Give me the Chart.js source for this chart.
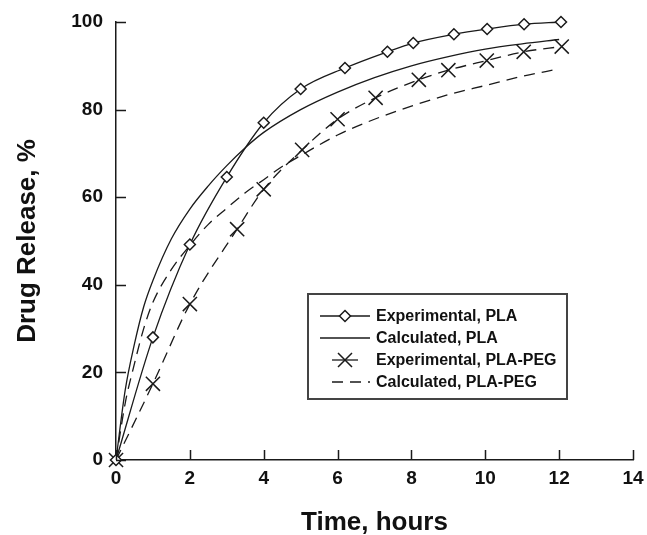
<!DOCTYPE html>
<html>
<head>
<meta charset="utf-8">
<script src="https://cdn.jsdelivr.net/npm/chart.js@4.4.1/dist/chart.umd.min.js"></script>
<style>
  html, body { margin: 0; padding: 0; background: #fff; }
  #wrap { width: 647px; height: 535px; }
</style>
</head>
<body>
<div id="wrap"><canvas id="release"></canvas></div>
<script>
// Experimental, PLA
const expPlaTime = [0, 1, 2, 3, 4, 5, 6.2, 7.35, 8.05, 9.15, 10.05, 11.05, 12.05];
const expPlaRelease = [0, 28, 49.2, 64.6, 77, 84.7, 89.5, 93.2, 95.2, 97.2, 98.4, 99.5, 100];

// Calculated, PLA
const calcPlaTime = [0, 0.25, 0.5, 0.75, 1, 1.5, 2, 2.5, 3, 3.5, 4, 5, 6, 7, 8, 9, 10, 11, 12];
const calcPlaRelease = [0, 16, 26.5, 35, 41, 50.5, 57.3, 62.6, 67.2, 71.3, 74.8, 80, 84, 87.3, 90, 92.1, 93.8, 95, 96];

// Experimental, PLA-PEG
const expPegTime = [0, 1, 2, 3.28, 4, 5.04, 6, 7.03, 8.2, 9, 10.04, 11.04, 12.07];
const expPegRelease = [0, 17.4, 35.6, 52.7, 61.8, 70.8, 77.8, 82.7, 86.8, 89, 91.2, 93.2, 94.4];

// Calculated, PLA-PEG
const calcPegTime = [0, 0.25, 0.5, 0.75, 1, 1.5, 2, 2.5, 3, 3.5, 4, 4.5, 5, 6, 7, 8, 9, 10, 11, 12];
const calcPegRelease = [0, 13, 22, 30, 36, 43.5, 49, 53.8, 57.5, 61, 64, 67, 69.5, 74.2, 77.8, 80.8, 83.4, 85.5, 87.6, 89.3];

const xTicks = [0, 2, 4, 6, 8, 10, 12, 14];
const yTicks = [0, 20, 40, 60, 80, 100];

const legendLabels = ['Experimental, PLA', 'Calculated, PLA', 'Experimental, PLA-PEG', 'Calculated, PLA-PEG'];

const toPoints = (xs, ys) => xs.map((x, i) => ({ x: x, y: ys[i] }));
const ink = '#1a1a1a';
const fontFamily = '"Liberation Sans", Arial, sans-serif';

// inward tick marks on both axes
const innerTicks = {
  id: 'innerTicks',
  afterDraw(chart) {
    const ctx = chart.ctx;
    const xs = chart.scales.x;
    const ys = chart.scales.y;
    const area = chart.chartArea;
    ctx.save();
    ctx.strokeStyle = ink;
    ctx.lineWidth = 1.5;
    ctx.beginPath();
    xTicks.forEach(v => {
      const px = Math.round(xs.getPixelForValue(v)) + 0.5;
      ctx.moveTo(px, area.bottom);
      ctx.lineTo(px, area.bottom - 10);
    });
    yTicks.forEach(v => {
      const py = Math.round(ys.getPixelForValue(v)) + 0.5;
      ctx.moveTo(area.left, py);
      ctx.lineTo(area.left + 10, py);
    });
    ctx.stroke();
    ctx.restore();
  }
};

// boxed legend inside the plot
const boxLegend = {
  id: 'boxLegend',
  afterDraw(chart) {
    const ctx = chart.ctx;
    const left = 308, top = 294, right = 567, bottom = 399;
    ctx.save();
    ctx.strokeStyle = '#444';
    ctx.lineWidth = 2;
    ctx.fillStyle = '#fff';
    ctx.fillRect(left, top, right - left, bottom - top);
    ctx.strokeRect(left, top, right - left, bottom - top);

    ctx.font = 'bold 16px ' + fontFamily;
    ctx.textBaseline = 'middle';
    ctx.textAlign = 'left';
    const rows = [316, 338, 360, 382];
    chart.data.datasets.forEach((ds, i) => {
      const y = rows[i];
      ctx.strokeStyle = ink;
      ctx.lineWidth = 1.3;
      ctx.setLineDash(ds.borderDash || []);
      ctx.beginPath();
      if (i === 2) {
        ctx.setLineDash([]);
        ctx.moveTo(332, y); ctx.lineTo(358, y);
      } else if (i === 3) {
        ctx.moveTo(332, y); ctx.lineTo(370, y);
      } else {
        ctx.moveTo(320, y); ctx.lineTo(370, y);
      }
      ctx.stroke();
      ctx.setLineDash([]);
      if (ds.pointRadius > 0) {
        const cx = 345;
        ctx.beginPath();
        if (ds.pointStyle === 'rectRot') {
          const r = ds.pointRadius;
          ctx.moveTo(cx, y - r); ctx.lineTo(cx + r, y); ctx.lineTo(cx, y + r); ctx.lineTo(cx - r, y); ctx.closePath();
          ctx.fillStyle = '#fff';
          ctx.fill();
          ctx.lineWidth = 1.5;
          ctx.stroke();
        } else {
          const r = 7;
          ctx.moveTo(cx - r, y - r); ctx.lineTo(cx + r, y + r);
          ctx.moveTo(cx + r, y - r); ctx.lineTo(cx - r, y + r);
          ctx.lineWidth = 1.5;
          ctx.stroke();
        }
      }
      ctx.fillStyle = '#111';
      ctx.fillText(legendLabels[i], 376, y + 1);
    });
    ctx.restore();
  }
};

new Chart(document.getElementById('release'), {
  type: 'line',
  data: {
    datasets: [
      {
        label: legendLabels[0],
        data: toPoints(expPlaTime, expPlaRelease),
        borderColor: ink,
        borderWidth: 1.3,
        pointStyle: 'rectRot',
        pointRadius: 5.5,
        pointBackgroundColor: '#fff',
        pointBorderColor: ink,
        pointBorderWidth: 1.5,
        cubicInterpolationMode: 'monotone',
        clip: false
      },
      {
        label: legendLabels[1],
        data: toPoints(calcPlaTime, calcPlaRelease),
        borderColor: ink,
        borderWidth: 1.3,
        pointRadius: 0,
        cubicInterpolationMode: 'monotone',
        clip: false
      },
      {
        label: legendLabels[2],
        data: toPoints(expPegTime, expPegRelease),
        borderColor: ink,
        borderWidth: 1.3,
        borderDash: [11, 7],
        pointStyle: 'crossRot',
        pointRadius: 10,
        pointBorderColor: ink,
        pointBorderWidth: 1.5,
        cubicInterpolationMode: 'monotone',
        clip: false
      },
      {
        label: legendLabels[3],
        data: toPoints(calcPegTime, calcPegRelease),
        borderColor: ink,
        borderWidth: 1.3,
        borderDash: [11, 7],
        pointRadius: 0,
        cubicInterpolationMode: 'monotone',
        clip: false
      }
    ]
  },
  options: {
    responsive: true,
    maintainAspectRatio: false,
    animation: false,
    layout: { padding: { top: 22, right: 14, left: 0, bottom: 0 } },
    scales: {
      x: {
        type: 'linear',
        min: 0,
        max: 14,
        afterFit: scale => {
          scale.height = 75;
          scale.paddingLeft = 0;
          scale.paddingRight = 0;
        },
        afterBuildTicks: scale => { scale.ticks = xTicks.map(v => ({ value: v })); },
        grid: { display: false, drawTicks: false },
        border: { display: true, color: ink, width: 1.5 },
        ticks: { color: '#111', padding: 7, font: { family: fontFamily, size: 19, weight: 'bold' } },
        title: {
          display: true,
          text: 'Time, hours',
          color: '#111',
          padding: { top: 0, bottom: -3 },
          font: { family: fontFamily, size: 26, weight: 'bold' }
        }
      },
      y: {
        min: 0,
        max: 100,
        afterFit: scale => {
          scale.width = 116;
          scale.paddingTop = 0;
          scale.paddingBottom = 0;
        },
        afterBuildTicks: scale => { scale.ticks = yTicks.map(v => ({ value: v })); },
        grid: { display: false, drawTicks: false },
        border: { display: true, color: ink, width: 1.5 },
        ticks: { color: '#111', padding: 13, font: { family: fontFamily, size: 19, weight: 'bold' } },
        title: {
          display: true,
          text: 'Drug Release, %',
          color: '#111',
          padding: { top: 12, bottom: 0 },
          font: { family: fontFamily, size: 26, weight: 'bold' }
        }
      }
    },
    plugins: {
      legend: { display: false },
      tooltip: { enabled: false }
    }
  },
  plugins: [innerTicks, boxLegend]
});
</script>
</body>
</html>
